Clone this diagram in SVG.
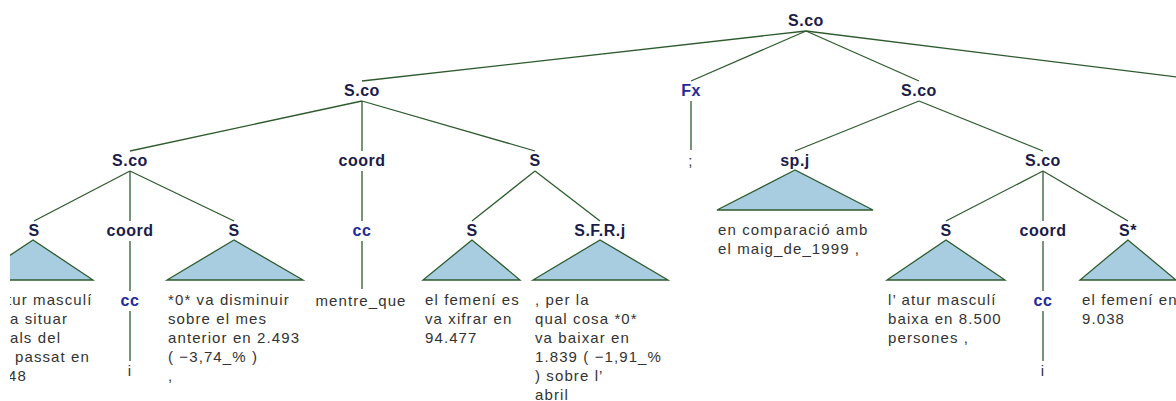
<svg xmlns="http://www.w3.org/2000/svg" width="1176" height="401" viewBox="0 0 1176 401">
<style>
.lbl{font-family:"Liberation Sans",Arial,Helvetica,sans-serif;font-size:16px;font-weight:bold;fill:#1c1c4a;text-anchor:middle;letter-spacing:0.5px}
.pos{fill:#1f2a9c}
.leaf{font-family:"Liberation Sans",Arial,Helvetica,sans-serif;font-size:15px;fill:#333;letter-spacing:1.1px}
.mid{text-anchor:middle}
.edge{stroke:#2e5b2e;stroke-width:1.3;fill:none}
.tri{fill:#a8cde0;stroke:#2e5b2e;stroke-width:1.3;stroke-linejoin:miter}
</style>
<defs>
<clipPath id="clip"><rect x="10" y="0" width="1166" height="401"/></clipPath>
</defs>
<rect width="1176" height="401" fill="#fff"/>
<g clip-path="url(#clip)">
<g id="connectors" class="edge">
<line x1="806" y1="31" x2="362" y2="81"/>
<line x1="806" y1="31" x2="691" y2="81"/>
<line x1="806" y1="31" x2="919" y2="81"/>
<line x1="806" y1="31" x2="1209" y2="81"/>
<line x1="362" y1="101" x2="130" y2="151"/>
<line x1="362" y1="101" x2="362" y2="151"/>
<line x1="362" y1="101" x2="535" y2="151"/>
<line x1="691" y1="101" x2="691" y2="150"/>
<line x1="919" y1="101" x2="795" y2="151"/>
<line x1="919" y1="101" x2="1043" y2="151"/>
<line x1="130" y1="171" x2="34" y2="221"/>
<line x1="130" y1="171" x2="130" y2="221"/>
<line x1="130" y1="171" x2="234" y2="221"/>
<line x1="362" y1="171" x2="362" y2="221"/>
<line x1="535" y1="171" x2="472" y2="221"/>
<line x1="535" y1="171" x2="600" y2="221"/>
<line x1="1043" y1="171" x2="946" y2="221"/>
<line x1="1043" y1="171" x2="1043" y2="221"/>
<line x1="1043" y1="171" x2="1128" y2="221"/>
<line x1="130" y1="241" x2="130" y2="291"/>
<line x1="362" y1="241" x2="362" y2="289"/>
<line x1="1043" y1="241" x2="1043" y2="291"/>
<line x1="130" y1="311" x2="130" y2="361"/>
<line x1="1043" y1="311" x2="1043" y2="361"/>
</g>

<g id="n-root"><text class="lbl" x="806" y="26">S.co</text></g>
<g id="n-sco-left"><text class="lbl" x="362" y="96">S.co</text></g>
<g id="n-fx"><text class="lbl pos" x="691" y="96">Fx</text></g>
<g id="n-semicolon"><text class="leaf mid" x="691" y="166">;</text></g>
<g id="n-sco-right"><text class="lbl" x="919" y="96">S.co</text></g>

<g id="n-sco-ll"><text class="lbl" x="130" y="166">S.co</text></g>
<g id="n-coord-1"><text class="lbl" x="362" y="166">coord</text></g>
<g id="n-s-mid"><text class="lbl" x="535" y="166">S</text></g>
<g id="n-spj">
<text class="lbl" x="795" y="166">sp.j</text>
<polygon class="tri" points="795,170 717,210 873,210"/>
<text class="leaf" x="718" y="235">en comparació amb</text>
<text class="leaf" x="718" y="254">el maig_de_1999 ,</text>
</g>
<g id="n-sco-rr"><text class="lbl" x="1043" y="166">S.co</text></g>

<g id="n-s1">
<text class="lbl" x="34" y="236">S</text>
<polygon class="tri" points="33,240 -27,280 93,280"/>
<text class="leaf" x="7" y="305">tur masculí</text>
<text class="leaf" x="10" y="324">a situar</text>
<text class="leaf" x="10" y="343">als del</text>
<text class="leaf" x="15" y="362">passat en</text>
<text class="leaf" x="8" y="381">48</text>
</g>
<g id="n-coord-2"><text class="lbl" x="130" y="236">coord</text></g>
<g id="n-cc-1"><text class="lbl pos" x="130" y="306">cc</text></g>
<g id="n-i-1"><text class="leaf mid" x="130" y="376">i</text></g>
<g id="n-s2">
<text class="lbl" x="234" y="236">S</text>
<polygon class="tri" points="234,240 167,280 303,280"/>
<text class="leaf" x="168" y="305">*0* va disminuir</text>
<text class="leaf" x="168" y="324">sobre el mes</text>
<text class="leaf" x="168" y="343">anterior en 2.493</text>
<text class="leaf" x="168" y="362">( −3,74_% )</text>
<text class="leaf" x="168" y="381">,</text>
</g>
<g id="n-cc-2"><text class="lbl pos" x="362" y="236">cc</text></g>
<g id="n-mentre"><text class="leaf mid" x="361" y="306">mentre_que</text></g>
<g id="n-s3">
<text class="lbl" x="472" y="236">S</text>
<polygon class="tri" points="472,240 423,280 520,280"/>
<text class="leaf" x="425" y="305">el femení es</text>
<text class="leaf" x="425" y="324">va xifrar en</text>
<text class="leaf" x="425" y="343">94.477</text>
</g>
<g id="n-sfrj">
<text class="lbl" x="600" y="236">S.F.R.j</text>
<polygon class="tri" points="600,240 533,280 668,280"/>
<text class="leaf" x="535" y="305">, per la</text>
<text class="leaf" x="535" y="324">qual cosa *0*</text>
<text class="leaf" x="535" y="343">va baixar en</text>
<text class="leaf" x="535" y="362">1.839 ( −1,91_%</text>
<text class="leaf" x="535" y="381">) sobre l’</text>
<text class="leaf" x="535" y="400">abril</text>
</g>
<g id="n-s4">
<text class="lbl" x="946" y="236">S</text>
<polygon class="tri" points="946,240 887,280 1005,280"/>
<text class="leaf" x="888" y="305">l’ atur masculí</text>
<text class="leaf" x="888" y="324">baixa en 8.500</text>
<text class="leaf" x="888" y="343">persones ,</text>
</g>
<g id="n-coord-3"><text class="lbl" x="1043" y="236">coord</text></g>
<g id="n-cc-3"><text class="lbl pos" x="1043" y="306">cc</text></g>
<g id="n-i-2"><text class="leaf mid" x="1043" y="376">i</text></g>
<g id="n-sstar">
<text class="lbl" x="1128" y="236">S*</text>
<polygon class="tri" points="1128,240 1080,280 1176,280"/>
<text class="leaf" x="1082" y="305">el femení en</text>
<text class="leaf" x="1082" y="324">9.038</text>
</g>
</g>
</svg>
